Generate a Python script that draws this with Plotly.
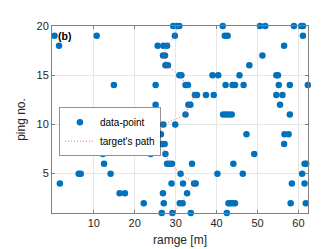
import plotly.graph_objects as go

# Detected data points: ping number and range [m]
det_ping = (
    [20] * 9 + [19] * 6 + [18] * 5 + [17] * 3 + [16] * 3 + [15] * 7 + [14] * 11 +
    [13] * 6 + [12] * 4 + [11] * 6 + [10] * 2 + [9] * 5 + [8] * 4 + [7] * 4 +
    [6] * 8 + [5] * 7 + [4] * 7 + [3] * 4 + [2] * 10 + [1] * 4
)
det_range = [
    29.4, 30.2, 30.9, 41.5, 50.6, 51.9, 58.9, 60.7, 61.1,          # 20
    0.4, 10.7, 29.8, 42.0, 42.7, 61.1,                             # 19
    1.5, 25.6, 27.0, 27.9, 56.5,                                   # 18
    26.9, 27.4, 51.2,                                              # 17
    27.5, 28.1, 48.0,                                              # 16
    30.9, 31.4, 39.0, 40.4, 45.6, 54.6, 55.0,                      # 15
    14.9, 25.1, 32.4, 33.0, 42.2, 43.9, 44.5, 46.6, 55.2, 57.9, 62.3,  # 14
    34.7, 35.2, 37.4, 39.3, 54.6, 56.1,                            # 13
    25.1, 33.1, 33.6, 55.5,                                        # 12
    32.4, 41.6, 42.3, 42.9, 43.7, 57.9,                            # 11
    27.0, 29.9,                                                    # 10
    26.0, 26.4, 47.3, 56.6, 57.6,                                  # 9
    25.8, 26.5, 27.3, 56.5,                                        # 8
    12.2, 23.9, 27.5, 49.2,                                        # 7
    12.5, 27.9, 28.5, 29.1, 34.0, 44.1, 61.5, 61.9,                # 6
    6.3, 6.8, 14.1, 31.2, 40.2, 46.4, 60.9,                        # 5
    1.7, 29.0, 31.8, 34.5, 34.9, 58.4, 61.5,                       # 4
    16.3, 17.6, 26.9, 32.8,                                        # 3
    22.2, 27.1, 31.0, 31.7, 42.9, 43.4, 43.9, 44.5, 58.1, 61.8,    # 2
    26.6, 29.2, 33.7, 42.5,                                        # 1
]

# Target's true path
path_ping = [20, 19, 18, 17, 16, 15, 14, 13, 12, 11, 10, 9, 8, 7, 6, 5, 4, 3, 2, 1]
path_range = [30.6, 29.8, 27.9, 27.0, 27.8, 31.0, 32.6, 34.9, 33.3, 32.4,
              27.0, 26.0, 26.5, 27.5, 28.6, 31.2, 34.8, 32.8, 31.3, 29.2]

x_ticks = [10, 20, 30, 40, 50, 60]
y_ticks = [5, 10, 15, 20]

FONT = "Liberation Sans, Arial, Helvetica, sans-serif"
TXT = "#262626"

fig = go.Figure()
fig.add_trace(go.Scatter(
    x=det_range, y=det_ping, mode="markers", name="data-point",
    marker=dict(color="#0072BD", size=6.5, line=dict(width=0)),
    cliponaxis=False,
))
fig.add_trace(go.Scatter(
    x=path_range, y=path_ping, mode="lines", name="target's path",
    line=dict(color="rgba(240,90,90,0.9)", width=1, dash="1px,2px"),
))

fig.add_annotation(
    x=1.0, y=19, xref="x", yref="y", text="<b>(b)</b>", showarrow=False,
    xanchor="left", yanchor="middle", borderpad=0,
    font=dict(family=FONT, size=10.5, color="#000"),
)

axis_common = dict(
    showline=True, linecolor="#808080", linewidth=1, mirror="ticks",
    ticks="inside", ticklen=3, tickcolor="#808080", tickwidth=1,
    showgrid=True, gridcolor="#e6e6e6", gridwidth=1, zeroline=False,
    tickfont=dict(family=FONT, size=11, color=TXT),
)

fig.update_xaxes(
    range=[-0.22, 62.34], tickvals=x_ticks,
    title=dict(text="ramge [m]", font=dict(family=FONT, size=12, color=TXT), standoff=7),
    **axis_common,
)
fig.update_yaxes(
    range=[1, 20], tickvals=y_ticks,
    title=dict(text="ping no.", font=dict(family=FONT, size=12, color=TXT), standoff=8),
    **axis_common,
)

fig.update_layout(
    width=332, height=249,
    margin=dict(l=43, r=32, t=18, b=35, pad=0),
    paper_bgcolor="white", plot_bgcolor="white",
    showlegend=True,
    legend=dict(
        x=0.029, y=0.566, xanchor="left", yanchor="top",
        bgcolor="white", bordercolor="#262626", borderwidth=0.5,
        font=dict(family=FONT, size=10, color="#000"),
        itemwidth=30, tracegroupgap=0,
    ),
)

fig.write_html("out.html")
